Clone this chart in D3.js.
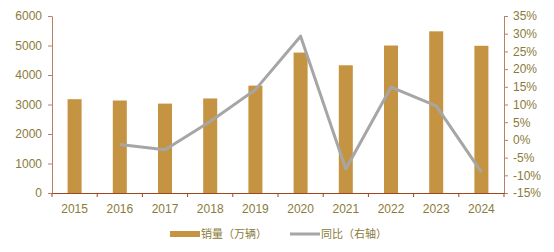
<!DOCTYPE html>
<html>
<head>
<meta charset="utf-8">
<script src="https://cdn.jsdelivr.net/npm/d3@7"></script>
<style>
  body { margin: 0; background: #fff; }
  text { font-family: "Liberation Sans", Arial, sans-serif; }
</style>
</head>
<body>
<section></section>
<script>
// data
const years = ['2015', '2016', '2017', '2018', '2019', '2020', '2021', '2022', '2023', '2024'];
const sales = [3180, 3135, 3030, 3205, 3640, 4760, 4330, 5000, 5480, 4990];
const yoy = [null, -1.3, -2.8, 5.2, 14.2, 29.3, -8.2, 14.9, 9.6, -9.1];
const leftTicks = [0, 1000, 2000, 3000, 4000, 5000, 6000];
const rightTicks = [-15, -10, -5, 0, 5, 10, 15, 20, 25, 30, 35];

const W = 554, H = 252;
const plotL = 52, plotR = 504, plotT = 16, plotB = 193;
const textColor = '#8a7b3a';

const svg = d3.select('section')
  .append('svg')
  .attr('width', W)
  .attr('height', H);

const xscale = d3.scaleBand().domain(years).range([plotL, plotR]).paddingInner(0).paddingOuter(0);
const yscale = d3.scaleLinear().domain([0, 6000]).range([plotB, plotT]);
const y2scale = d3.scaleLinear().domain([-15, 35]).range([plotB, plotT]);

const barW = xscale.bandwidth() * 0.31;

// bars
svg.selectAll('.bar')
  .data(years)
  .enter()
  .append('rect')
  .attr('class', 'bar')
  .attr('x', d => xscale(d) + xscale.bandwidth() / 2 - barW / 2)
  .attr('y', (d, i) => yscale(sales[i]))
  .attr('width', barW)
  .attr('height', (d, i) => plotB - yscale(sales[i]))
  .attr('fill', '#c59442');

// line
const pts = years.map((d, i) => [d, yoy[i]]).filter(p => p[1] !== null);
const line = d3.line()
  .x(p => xscale(p[0]) + xscale.bandwidth() / 2)
  .y(p => y2scale(p[1]));
svg.append('path')
  .datum(pts)
  .attr('d', line)
  .attr('fill', 'none')
  .attr('stroke', '#a6a6a6')
  .attr('stroke-width', 3)
  .attr('stroke-linejoin', 'round');

// axes
const yaxis = d3.axisLeft(yscale).tickValues(leftTicks).tickFormat(d3.format('d'))
  .tickSize(4).tickPadding(6).tickSizeOuter(0);
const y2axis = d3.axisRight(y2scale).tickValues(rightTicks).tickSize(4).tickPadding(5)
  .tickFormat(d => d + '%').tickSizeOuter(0);
const xaxis = d3.axisBottom(xscale).tickSize(4).tickPadding(7).tickSizeOuter(0);

const gy = svg.append('g').attr('transform', `translate(${plotL},0)`).call(yaxis);
const gy2 = svg.append('g').attr('transform', `translate(${plotR},0)`).call(y2axis);
const gx = svg.append('g').attr('transform', `translate(0,${plotB})`).call(xaxis);

// x ticks sit on band edges
gx.selectAll('.tick line').remove();
gx.selectAll('.edge')
  .data(years.concat(['end']))
  .enter()
  .append('line')
  .attr('x1', (d, i) => plotL + i * xscale.bandwidth())
  .attr('x2', (d, i) => plotL + i * xscale.bandwidth())
  .attr('y1', 0)
  .attr('y2', 4)
  .attr('stroke', '#a0461f');

[gy, gy2].forEach(g => {
  g.selectAll('path, line').attr('stroke', '#b98069');
});
gx.select('.domain').attr('stroke', '#a0461f');
[gy, gy2, gx].forEach(g => {
  g.selectAll('text')
    .attr('fill', textColor)
    .style('font-size', '12px');
});

// legend
const legend = [
  { name: '销量（万辆）', type: 'bar', x: 170 },
  { name: '同比（右轴）', type: 'line', x: 290 }
];
const lg = svg.selectAll('.legend')
  .data(legend)
  .enter()
  .append('g')
  .attr('class', 'legend')
  .attr('transform', d => `translate(${d.x},234)`);
lg.append('rect')
  .attr('x', 0)
  .attr('y', d => d.type === 'bar' ? -3 : -1.5)
  .attr('width', 30)
  .attr('height', d => d.type === 'bar' ? 6 : 3)
  .attr('fill', d => d.type === 'bar' ? '#c59442' : '#a6a6a6');
lg.append('text')
  .attr('x', 31)
  .attr('y', 4)
  .attr('fill', textColor)
  .style('font-size', '11px')
  .style('font-family', '"Noto Sans CJK SC", sans-serif')
  .text(d => d.name);
</script>
</body>
</html>
